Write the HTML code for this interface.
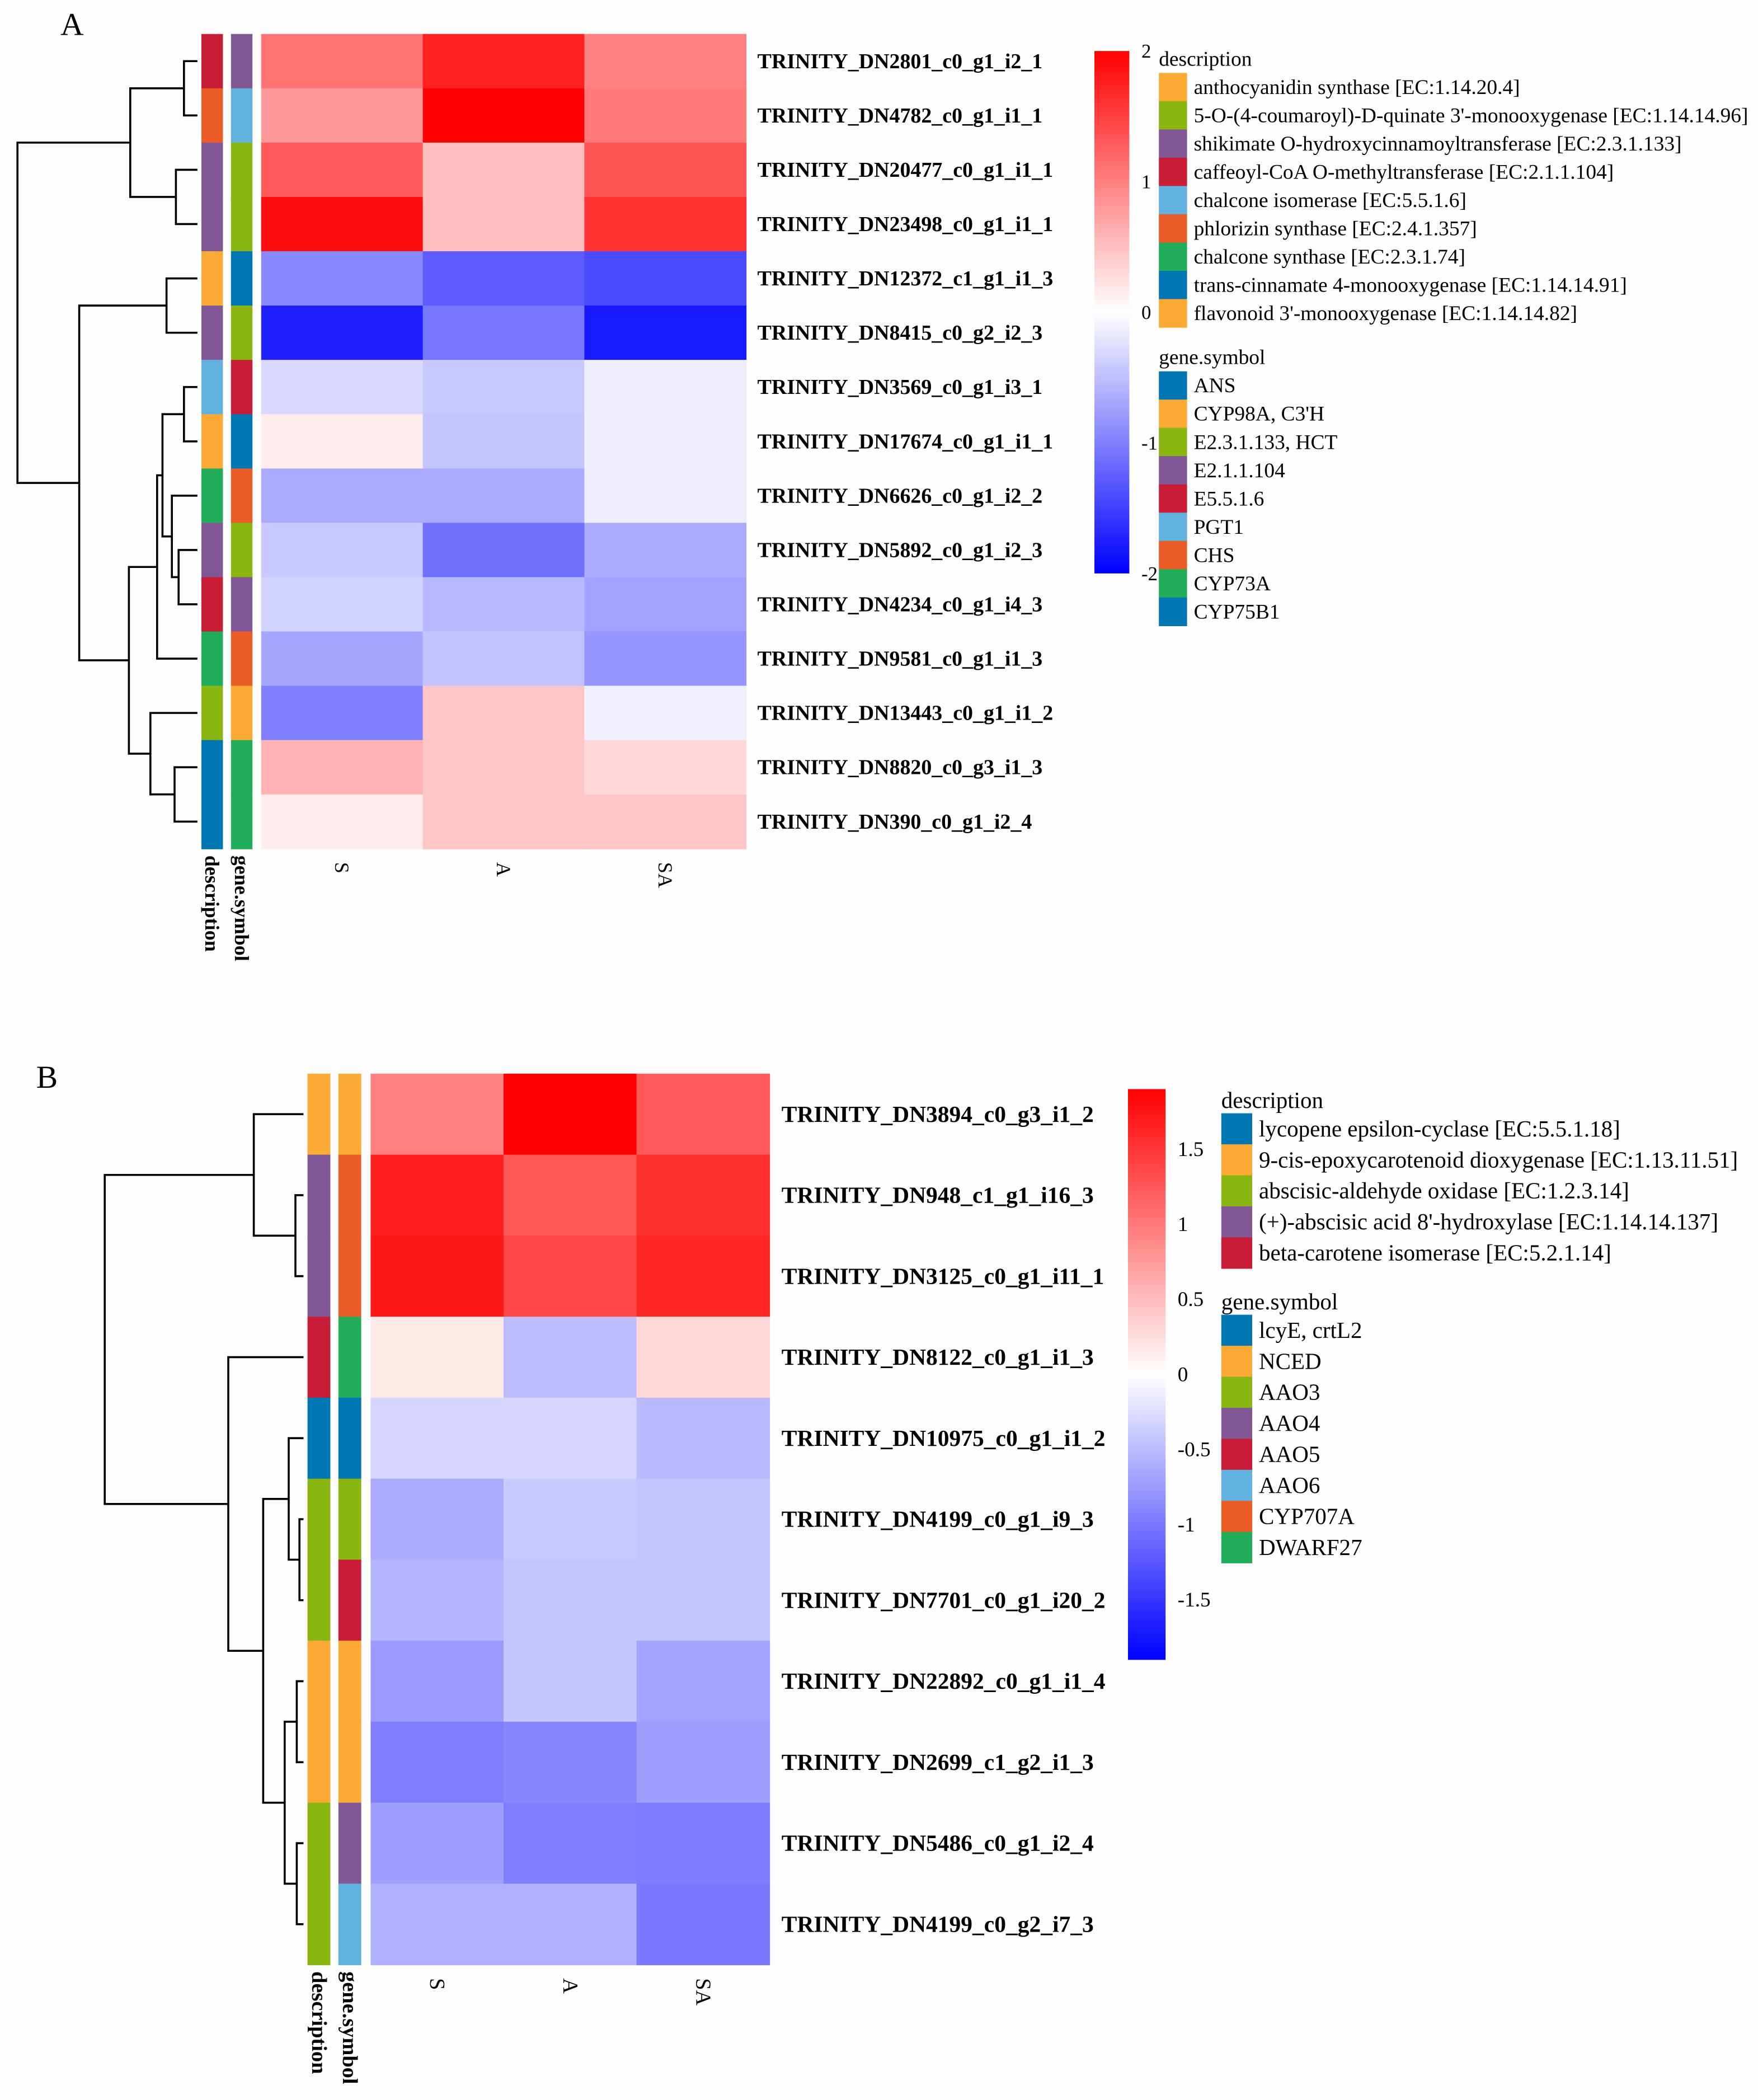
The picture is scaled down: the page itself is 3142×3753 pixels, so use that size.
<!DOCTYPE html>
<html><head><meta charset="utf-8">
<style>
html,body{margin:0;padding:0;background:#fdfdfd;}
svg{display:block;font-family:"Liberation Serif","Times New Roman",serif;}
</style></head>
<body>
<svg id="fig" xmlns="http://www.w3.org/2000/svg" width="3142" height="3753" viewBox="0 0 1309.17 1563.75">
<rect x="0" y="0" width="1309.17" height="1563.75" fill="#fdfdfd"/>
<defs>
<linearGradient id="gradA" x1="0" y1="0" x2="0" y2="1">
<stop offset="0" stop-color="#ff0000"/><stop offset="0.5" stop-color="#ffffff"/><stop offset="1" stop-color="#0000ff"/>
</linearGradient>
<linearGradient id="gradB" x1="0" y1="0" x2="0" y2="1">
<stop offset="0" stop-color="#ff0000"/><stop offset="0.5" stop-color="#ffffff"/><stop offset="1" stop-color="#0000ff"/>
</linearGradient>
<clipPath id="clipB"><rect x="575" y="790" width="247" height="690"/></clipPath>
</defs>
<g id="panelA"></g>
<g id="panelB"></g>
</svg>
<script>
// ---------- Panel A data ----------
const rowsA = ["TRINITY_DN2801_c0_g1_i2_1","TRINITY_DN4782_c0_g1_i1_1","TRINITY_DN20477_c0_g1_i1_1","TRINITY_DN23498_c0_g1_i1_1","TRINITY_DN12372_c1_g1_i1_3","TRINITY_DN8415_c0_g2_i2_3","TRINITY_DN3569_c0_g1_i3_1","TRINITY_DN17674_c0_g1_i1_1","TRINITY_DN6626_c0_g1_i2_2","TRINITY_DN5892_c0_g1_i2_3","TRINITY_DN4234_c0_g1_i4_3","TRINITY_DN9581_c0_g1_i1_3","TRINITY_DN13443_c0_g1_i1_2","TRINITY_DN8820_c0_g3_i1_3","TRINITY_DN390_c0_g1_i2_4"];
const colsA = ["S","A","SA"];
const valsA_S  = [1.1,0.8,1.3,1.9,-0.93,-1.75,-0.3,0.15,-0.67,-0.42,-0.35,-0.7,-1.0,0.6,0.15];
const valsA_A  = [1.75,2.0,0.5,0.5,-1.28,-1.07,-0.42,-0.46,-0.67,-1.12,-0.55,-0.48,0.45,0.45,0.45];
const valsA_SA = [1.0,1.05,1.33,1.6,-1.42,-1.8,-0.13,-0.13,-0.13,-0.67,-0.72,-0.82,-0.12,0.3,0.45];
const descA = [3,5,2,2,0,2,4,0,6,2,3,6,1,7,7];
const geneA = [2,4,1,1,7,1,3,7,5,1,2,5,0,6,6];
const ticksA = [2,1,0,-1,-2];
const descLabelsA = ["anthocyanidin synthase [EC:1.14.20.4]","5-O-(4-coumaroyl)-D-quinate 3'-monooxygenase [EC:1.14.14.96]","shikimate O-hydroxycinnamoyltransferase [EC:2.3.1.133]","caffeoyl-CoA O-methyltransferase [EC:2.1.1.104]","chalcone isomerase [EC:5.5.1.6]","phlorizin synthase [EC:2.4.1.357]","chalcone synthase [EC:2.3.1.74]","trans-cinnamate 4-monooxygenase [EC:1.14.14.91]","flavonoid 3'-monooxygenase [EC:1.14.14.82]"];
const descColorIdxA = [0,1,2,3,4,5,6,7,0];
const geneLabelsA = ["ANS","CYP98A, C3'H","E2.3.1.133, HCT","E2.1.1.104","E5.5.1.6","PGT1","CHS","CYP73A","CYP75B1"];
const geneColorIdxA = [7,0,1,2,3,4,5,6,7];
// ---------- Panel B data ----------
const rowsB = ["TRINITY_DN3894_c0_g3_i1_2","TRINITY_DN948_c1_g1_i16_3","TRINITY_DN3125_c0_g1_i11_1","TRINITY_DN8122_c0_g1_i1_3","TRINITY_DN10975_c0_g1_i1_2","TRINITY_DN4199_c0_g1_i9_3","TRINITY_DN7701_c0_g1_i20_2","TRINITY_DN22892_c0_g1_i1_4","TRINITY_DN2699_c1_g2_i1_3","TRINITY_DN5486_c0_g1_i2_4","TRINITY_DN4199_c0_g2_i7_3"];
const colsB = ["S","A","SA"];
const valsB_S  = [0.95,1.67,1.72,0.17,-0.31,-0.63,-0.56,-0.75,-0.95,-0.72,-0.58];
const valsB_A  = [1.9,1.26,1.38,-0.5,-0.31,-0.4,-0.44,-0.42,-0.9,-0.95,-0.58];
const valsB_SA = [1.24,1.54,1.62,0.3,-0.52,-0.44,-0.44,-0.68,-0.72,-0.97,-1.0];
const descB = [0,2,2,3,7,1,1,0,0,1,1];
const geneB = [0,5,5,6,7,1,3,0,0,2,4];
const ticksB = [1.5,1,0.5,0,-0.5,-1,-1.5];
const descLabelsB = ["lycopene epsilon-cyclase [EC:5.5.1.18]","9-cis-epoxycarotenoid dioxygenase [EC:1.13.11.51]","abscisic-aldehyde oxidase [EC:1.2.3.14]","(+)-abscisic acid 8'-hydroxylase [EC:1.14.14.137]","beta-carotene isomerase [EC:5.2.1.14]"];
const descColorIdxB = [7,0,1,2,3];
const geneLabelsB = ["lcyE, crtL2","NCED","AAO3","AAO4","AAO5","AAO6","CYP707A","DWARF27"];
const geneColorIdxB = [7,0,1,2,3,4,5,6];
const palette = ["#fbab35","#8ab612","#815796","#c81c37","#62b2df","#ec5c26","#22ad5b","#0077b3"];

const NS = "http://www.w3.org/2000/svg";
function mk(parent, tag, attrs, text){
  const e = document.createElementNS(NS, tag);
  for (const k in attrs) e.setAttribute(k, attrs[k]);
  if (text !== undefined) e.textContent = text;
  parent.appendChild(e);
  return e;
}
function colorFor(v, max){
  let t = Math.max(-1, Math.min(1, v / max));
  const c = Math.round(255 * (1 - Math.abs(t)));
  return t >= 0 ? `rgb(255,${c},${c})` : `rgb(${c},${c},255)`;
}

function drawPanel(g, cfg){
  const n = cfg.rows.length;
  const rowH = (cfg.bottom - cfg.top) / n;
  const colW = (cfg.right - cfg.left) / 3;
  const yOf = i => cfg.top + i * rowH;
  const xOf = j => cfg.left + j * colW;
  const series = [cfg.s, cfg.a, cfg.sa];
  const L = mk(g, "text", {x: cfg.letterX, y: cfg.letterY, "font-size": 24}, cfg.letter);
  
  
  for (let j = 0; j < 3; j++) for (let i = 0; i < n; i++){
    const r = mk(g, "rect", {x: xOf(j), y: yOf(i), width: colW + 0.4, height: rowH + 0.4, fill: colorFor(series[j][i], cfg.max)});
    
    
  }
  for (let i = 0; i < n; i++){
    const a = mk(g, "rect", {x: cfg.descX, y: yOf(i), width: cfg.annW, height: rowH + 0.4, fill: palette[cfg.desc[i]]});
    
    
    const b = mk(g, "rect", {x: cfg.geneX, y: yOf(i), width: cfg.annW, height: rowH + 0.4, fill: palette[cfg.gene[i]]});
    
    
  }
  const lg = mk(g, "g", cfg.clip ? {"clip-path": cfg.clip} : {});
  for (let i = 0; i < n; i++){
    const t = mk(lg, "text", {x: cfg.labelX, y: yOf(i) + rowH / 2 + cfg.labelFs * 0.33, "font-size": cfg.labelFs, "font-weight": "bold"}, cfg.rows[i]);
    
    
  }
  for (let j = 0; j < 3; j++){
    const cx = xOf(j) + colW / 2, cy = cfg.bottom + 10;
    const t = mk(g, "text", {x: cx - 5, y: cy, "font-size": cfg.colFs, transform: `rotate(90 ${cx - 5} ${cy})`}, cfg.cols[j]);
    
    
  }
  [["description", cfg.descX], ["gene.symbol", cfg.geneX]].forEach(([s, x]) => {
    const cx = x + cfg.annW / 2 - 5, cy = cfg.bottom + 5;
    const t = mk(g, "text", {x: cx, y: cy, "font-size": cfg.colFs, "font-weight": "bold", transform: `rotate(90 ${cx} ${cy})`}, s);
    
    
  });
  const leafX = cfg.descX - 3;
  function node(t){
    if (typeof t === "number") return {x: leafX, y: yOf(t) + rowH / 2};
    const a = node(t[0]), b = node(t[1]), h = t[2];
    const p = mk(g, "path", {d: `M${a.x},${a.y}H${h}V${b.y}H${b.x}`, fill: "none", stroke: "#000", "stroke-width": 1.5});
    
    
    return {x: h, y: (a.y + b.y) / 2};
  }
  node(cfg.tree);
  const cb = mk(g, "rect", {x: cfg.cbX, y: cfg.cbTop, width: cfg.cbW, height: cfg.cbBot - cfg.cbTop, fill: cfg.grad});
  
  
  const cbY = v => cfg.cbTop + (cfg.max - v) / (2 * cfg.max) * (cfg.cbBot - cfg.cbTop);
  cfg.ticks.forEach(v => {
    const t = mk(g, "text", {x: cfg.cbX + cfg.cbW + 9, y: cbY(v) + 5, "font-size": cfg.tickFs}, String(v));
    
    
  });
  function legend(title, titleY, startY, labels, cidx){
    const tt = mk(g, "text", {x: cfg.swX, y: titleY, "font-size": cfg.legFs}, title);
    
    
    labels.forEach((s, k) => {
      const y = startY + k * cfg.swH;
      const sw = mk(g, "rect", {x: cfg.swX, y: y, width: cfg.swW, height: cfg.swH + 0.3, fill: palette[cidx[k]]});
      
      
      const t = mk(g, "text", {x: cfg.swX + cfg.swW + 5, y: y + cfg.swH / 2 + cfg.legFs * 0.33, "font-size": cfg.legFs}, s);
      
      
    });
  }
  legend("description", cfg.descTitleY, cfg.descStart, cfg.descLabels, cfg.descIdx);
  legend("gene.symbol", cfg.geneTitleY, cfg.geneStart, cfg.geneLabels, cfg.geneIdx);
}

const tA_c78 = [6,7,137];
const tA_c = [8,[9,10,133],128];
const tA_d = [tA_c78, tA_c, 121];
const tA_e = [tA_d, 11, 117];
const tA_f = [12,[13,14,130],112];
const tA_g = [tA_e, tA_f, 96];
const tA_h = [[4,5,124], tA_g, 59];
const treeA = [[[0,1,137],[2,3,131],97], tA_h, 13];

drawPanel(document.getElementById("panelA"), {
  letter: "A", letterX: 45, letterY: 26,
  rows: rowsA, cols: colsA, s: valsA_S, a: valsA_A, sa: valsA_SA, desc: descA, gene: geneA, max: 2,
  top: 25.3, bottom: 632, left: 194.5, right: 555.5,
  descX: 150, geneX: 172, annW: 16,
  labelX: 564, labelFs: 15.8, colFs: 15,
  tree: treeA,
  cbX: 815, cbW: 26, cbTop: 38, cbBot: 427, grad: "url(#gradA)", ticks: ticksA, tickFs: 14.5,
  legFs: 15.6, swX: 863, swW: 21, swH: 21.05,
  descTitleY: 49, descStart: 54.3, descLabels: descLabelsA, descIdx: descColorIdxA,
  geneTitleY: 271, geneStart: 276.5, geneLabels: geneLabelsA, geneIdx: geneColorIdxA
});
drawPanel(document.getElementById("panelB"), {
  letter: "B", letterX: 27, letterY: 810,
  rows: rowsB, cols: colsB, s: valsB_S, a: valsB_A, sa: valsB_SA, desc: descB, gene: geneB, max: 1.9,
  top: 799.5, bottom: 1463, left: 276, right: 573,
  descX: 229, geneX: 252, annW: 17,
  labelX: 582, labelFs: 17.3, colFs: 16,
  tree: [[0,[1,2,220],189],[3,[[4,[5,6,223],215],[[7,8,221],[9,10,221],212],196],170],78],
  cbX: 840, cbW: 28, cbTop: 811, cbBot: 1236, grad: "url(#gradB)", ticks: ticksB, tickFs: 15.5,
  legFs: 17.1, swX: 909.5, swW: 23, swH: 23.1,
  descTitleY: 825, descStart: 829, descLabels: descLabelsB, descIdx: descColorIdxB,
  geneTitleY: 975, geneStart: 979, geneLabels: geneLabelsB, geneIdx: geneColorIdxB
});
</script>
</body></html>
